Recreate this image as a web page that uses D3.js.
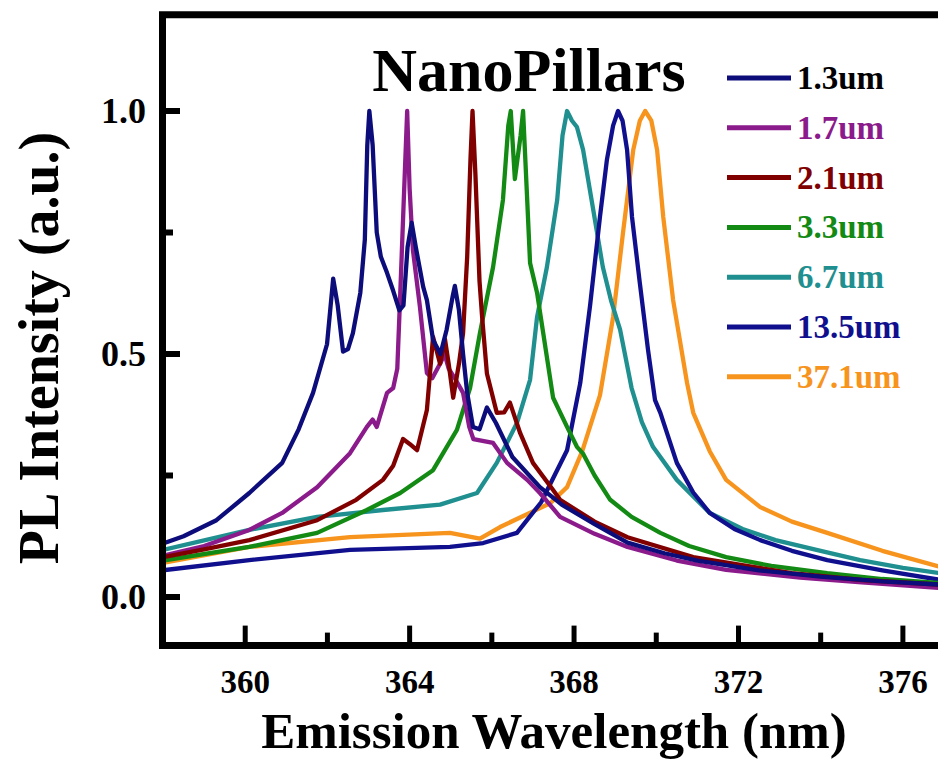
<!DOCTYPE html>
<html><head><meta charset="utf-8">
<script src="https://cdn.jsdelivr.net/npm/d3@7"></script>
<style>html,body{margin:0;padding:0;background:#fff;overflow:hidden}</style>
</head><body>
<svg id="chart" width="938" height="762"></svg>
<script>
// ---- data ----
const seriesNames = ["1.3um","1.7um","2.1um","3.3um","6.7um","13.5um","37.1um"];
const seriesColors = ["#0c0c7a","#8b1a8b","#800000","#138a13","#1f8f8f","#10108f","#f7941d"];
const legendTextColors = ["#000000","#8b1a8b","#800000","#138a13","#1f8f8f","#10108f","#f7941d"];

const s_1_3 = [[358.0,0.11],[358.5,0.125],[359.3,0.158],[360.1,0.214],[360.9,0.276],[361.3,0.345],[361.65,0.42],[361.99,0.52],[362.14,0.655],[362.25,0.6],[362.38,0.505],[362.5,0.51],[362.62,0.543],[362.8,0.626],[362.91,0.735],[362.97,0.93],[363.02,1.0],[363.1,0.93],[363.2,0.75],[363.3,0.7],[363.45,0.667],[363.6,0.63],[363.75,0.59],[363.85,0.6],[363.95,0.72],[364.05,0.77],[364.15,0.72],[364.33,0.638],[364.42,0.611],[364.57,0.529],[364.75,0.5],[364.9,0.55],[365.05,0.62],[365.1,0.64],[365.2,0.59],[365.3,0.5],[365.4,0.42],[365.54,0.35],[365.7,0.345],[365.88,0.39],[366.1,0.358],[366.5,0.288],[367.17,0.226],[367.7,0.19],[368.5,0.15],[369.3,0.112],[370.2,0.09],[371.0,0.075],[372.5,0.055],[374.0,0.042],[375.5,0.032],[377.0,0.025]];
const s_1_7 = [[358.0,0.085],[359.0,0.105],[360.1,0.138],[360.9,0.173],[361.75,0.226],[362.55,0.296],[362.96,0.35],[363.1,0.365],[363.2,0.35],[363.45,0.42],[363.6,0.43],[363.7,0.47],[363.77,0.62],[363.85,0.8],[363.94,1.0],[364.0,0.84],[364.08,0.714],[364.25,0.597],[364.42,0.461],[364.55,0.45],[364.74,0.48],[364.85,0.5],[364.95,0.47],[365.1,0.45],[365.3,0.42],[365.45,0.35],[365.55,0.325],[366.03,0.317],[366.37,0.276],[366.86,0.241],[367.17,0.214],[367.66,0.165],[368.5,0.13],[369.3,0.103],[370.5,0.075],[371.7,0.056],[373.5,0.04],[375.0,0.03],[377.0,0.018]];
const s_2_1 = [[358.0,0.082],[359.0,0.098],[360.1,0.117],[361.75,0.158],[362.7,0.2],[363.35,0.241],[363.6,0.27],[363.84,0.325],[364.0,0.315],[364.18,0.302],[364.42,0.385],[364.57,0.535],[364.74,0.48],[364.86,0.53],[364.95,0.48],[365.06,0.41],[365.2,0.48],[365.3,0.543],[365.4,0.7],[365.48,0.9],[365.53,1.0],[365.6,0.87],[365.7,0.65],[365.76,0.58],[365.88,0.46],[366.12,0.379],[366.3,0.38],[366.44,0.4],[366.69,0.337],[367.0,0.276],[367.49,0.22],[367.66,0.2],[368.5,0.155],[369.3,0.123],[370.9,0.082],[373.3,0.049],[375.0,0.035],[377.0,0.025]];
const s_3_3 = [[358.0,0.075],[360.1,0.103],[361.75,0.132],[362.96,0.179],[363.77,0.214],[364.57,0.261],[365.15,0.344],[365.47,0.43],[365.71,0.543],[366.03,0.679],[366.27,0.817],[366.4,0.97],[366.46,1.0],[366.56,0.86],[366.7,0.95],[366.76,1.0],[366.86,0.817],[366.93,0.687],[367.1,0.626],[367.25,0.543],[367.49,0.41],[367.83,0.35],[368.07,0.309],[368.22,0.295],[368.5,0.25],[368.88,0.2],[369.4,0.165],[370.1,0.132],[370.8,0.105],[371.7,0.082],[372.8,0.064],[374.16,0.049],[375.5,0.037],[377.0,0.028]];
const s_6_7 = [[358.0,0.097],[360.1,0.138],[361.75,0.165],[363.35,0.179],[364.74,0.19],[365.64,0.214],[366.12,0.276],[366.61,0.358],[366.93,0.447],[367.1,0.576],[367.34,0.679],[367.59,0.817],[367.72,0.95],[367.83,1.0],[367.95,0.98],[368.07,0.967],[368.22,0.92],[368.46,0.8],[368.7,0.679],[368.9,0.61],[369.12,0.55],[369.4,0.43],[369.65,0.36],[369.92,0.309],[370.5,0.241],[371.3,0.173],[372.1,0.14],[372.9,0.117],[374.0,0.095],[374.96,0.076],[376.0,0.06],[377.0,0.048]];
const s_13_5 = [[358.0,0.055],[360.1,0.076],[362.55,0.097],[364.98,0.103],[365.79,0.111],[366.61,0.132],[367.2,0.195],[367.83,0.302],[368.15,0.44],[368.39,0.6],[368.63,0.782],[368.8,0.9],[368.95,0.97],[369.07,1.0],[369.18,0.98],[369.29,0.92],[369.41,0.782],[369.6,0.646],[369.8,0.508],[369.97,0.405],[370.1,0.379],[370.5,0.276],[370.9,0.215],[371.3,0.173],[371.9,0.14],[372.53,0.117],[373.3,0.095],[374.16,0.076],[375.5,0.055],[377.0,0.034]];
const s_37_1 = [[358.0,0.07],[360.1,0.103],[362.55,0.123],[364.98,0.132],[365.71,0.12],[366.2,0.144],[367.42,0.193],[367.83,0.226],[368.2,0.3],[368.63,0.415],[368.95,0.576],[369.19,0.749],[369.44,0.92],[369.6,0.98],[369.73,1.0],[369.88,0.98],[370.02,0.92],[370.17,0.782],[370.41,0.611],[370.75,0.44],[370.9,0.379],[371.3,0.3],[371.7,0.241],[372.53,0.185],[373.3,0.155],[374.16,0.132],[375.5,0.095],[377.0,0.06]];
const seriesData = [s_1_3, s_1_7, s_2_1, s_3_3, s_6_7, s_13_5, s_37_1];

const xMajorTicks = [360,364,368,372,376];
const xMinorTicks = [358,362,366,370,374];
const yMajorTicks = [0.0,0.5,1.0];
const yMinorTicks = [0.25,0.75];

const titleText = "NanoPillars";
const xLabel = "Emission Wavelength (nm)";
const yLabel = "PL Intensity (a.u.)";

// ---- drawing ----
const svg = d3.select("#chart");
const FONT = "'Liberation Serif','Times New Roman',serif";
const x = d3.scaleLinear().domain([358,377]).range([163,944]);
const y = d3.scaleLinear().domain([-0.1,1.2]).range([645.6,13.8]);

svg.append("defs").append("clipPath").attr("id","clip")
  .append("rect").attr("x",163).attr("y",14).attr("width",780).attr("height",632);

const g = svg.append("g").attr("clip-path","url(#clip)");
const line = d3.line().x(d=>x(d[0])).y(d=>y(d[1]));
const order = [6,4,5,3,1,2,0];
order.forEach(i=>{
  g.append("path").datum(seriesData[i]).attr("d",line)
    .attr("fill","none").attr("stroke",seriesColors[i])
    .attr("stroke-width",4.3).attr("stroke-linejoin","round");
});

// frame
const frame = svg.append("g").attr("stroke","#000").attr("stroke-width",7).attr("fill","none");
frame.append("path").attr("d",`M938,${y(1.2)+1}H${x(358)-0.5}V${y(-0.1)}H938`).attr("stroke-linecap","square");

// x ticks (inward)
const xAxis = svg.append("g");
xMajorTicks.forEach(v=>{
  xAxis.append("line").attr("x1",x(v)).attr("x2",x(v)).attr("y1",y(-0.1)).attr("y2",y(-0.1)-20)
    .attr("stroke","#000").attr("stroke-width",5);
  xAxis.append("text").attr("x",x(v)).attr("y",693).attr("text-anchor","middle")
    .attr("font-family",FONT).attr("font-weight","bold").attr("font-size",33).text(v);
});
xMinorTicks.forEach(v=>{
  xAxis.append("line").attr("x1",x(v)).attr("x2",x(v)).attr("y1",y(-0.1)).attr("y2",y(-0.1)-13)
    .attr("stroke","#000").attr("stroke-width",5);
});
// y ticks
yMajorTicks.forEach(v=>{
  svg.append("line").attr("x1",x(358)).attr("x2",x(358)+17).attr("y1",y(v)).attr("y2",y(v))
    .attr("stroke","#000").attr("stroke-width",6);
  svg.append("text").attr("x",146).attr("y",y(v)+12).attr("text-anchor","end")
    .attr("font-family",FONT).attr("font-weight","bold").attr("font-size",36).text(d3.format(".1f")(v));
});
yMinorTicks.forEach(v=>{
  svg.append("line").attr("x1",x(358)).attr("x2",x(358)+10).attr("y1",y(v)).attr("y2",y(v))
    .attr("stroke","#000").attr("stroke-width",6);
});

// title
svg.append("text").attr("x",529).attr("y",91).attr("text-anchor","middle")
  .attr("font-family",FONT).attr("font-weight","bold").attr("font-size",62).text(titleText);
// axis labels
svg.append("text").attr("x",554).attr("y",748).attr("text-anchor","middle")
  .attr("font-family",FONT).attr("font-weight","bold").attr("font-size",51).text(xLabel);
svg.append("text").attr("transform","translate(58,348) rotate(-90)").attr("text-anchor","middle")
  .attr("font-family",FONT).attr("font-weight","bold").attr("font-size",56).text(yLabel);

// legend
const lg = svg.append("g");
seriesNames.forEach((n,i)=>{
  const yy = 78 + i*49.8;
  lg.append("line").attr("x1",727).attr("x2",791).attr("y1",yy).attr("y2",yy)
    .attr("stroke",seriesColors[i]).attr("stroke-width",5);
  lg.append("text").attr("x",797).attr("y",yy+11).attr("font-family",FONT).attr("font-weight","bold")
    .attr("font-size",33).attr("fill",legendTextColors[i]).text(n);
});
</script>
</body></html>
